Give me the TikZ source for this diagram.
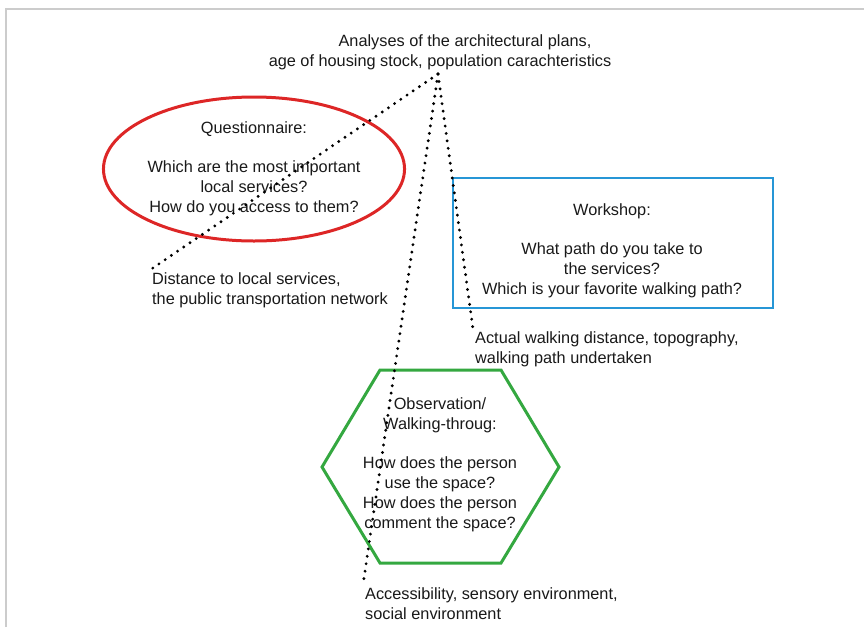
\documentclass[tikz,border=0pt]{standalone}
\usepackage{fontspec}
\setmainfont{Liberation Sans}
\usetikzlibrary{shapes.geometric}

\definecolor{qred}{RGB}{221,38,38}
\definecolor{wblue}{RGB}{38,150,214}
\definecolor{ogreen}{RGB}{52,168,64}

\tikzset{
    txt/.style={font=\fontsize{16.3}{20}\selectfont, text=black!90, align=center},
    lbl/.style={txt, align=left, anchor=north west, inner sep=2pt},
    dots/.style={line width=3.2pt, line cap=round, dash pattern=on 0pt off 7.5pt},
}

\begin{document}
\begin{tikzpicture}[x=1pt,y=-1pt]
    \useasboundingbox (0,0) rectangle (864,627);
    \draw[black!20, line width=1.5pt] (6,627) -- (6,9) -- (864,9);

    % sources of the data
    \node[txt] (plans) at (440,52) {\hspace*{50pt}Analyses of the architectural plans,\\ age of housing stock, population carachteristics};
    \coordinate (apex) at (438,74);

    \node[txt, ellipse, draw=qred, line width=3pt, minimum width=292pt, minimum height=144pt, inner sep=0pt] (quest) at (254,169)
        {Questionnaire:\\[19pt] Which are the most important\\ local services?\\ How do you access to them?};
    \node[rectangle, draw=wblue, line width=2.2pt, minimum width=320pt, minimum height=130pt] (work) at (613,243) {};
    \node[txt] (worktxt) at (612,251)
        {Workshop:\\[19pt] What path do you take to\\ the services?\\ Which is your favorite walking path?};
    \draw[ogreen, line width=3pt, line join=miter] (322,467) -- (380,370) -- (501,370) -- (559,467) -- (501,563) -- (380,563) -- cycle;
    \node[txt] (obs) at (440,465)
        {Observation/\\ Walking-throug:\\[19pt] How does the person\\ use the space?\\ How does the person\\ comment the space?};

    % what each method gives
    \node[lbl] (dist) at (150,270) {Distance to local services,\\ the public transportation network};
    \node[lbl] (walk) at (473,329) {Actual walking distance, topography,\\ walking path undertaken};
    \node[lbl] (access) at (363,585) {Accessibility, sensory environment,\\ social environment};

    \foreach \t in {dist,walk,access} {
        \draw[dots] (apex) -- (\t.north west);
    }
\end{tikzpicture}
\end{document}
